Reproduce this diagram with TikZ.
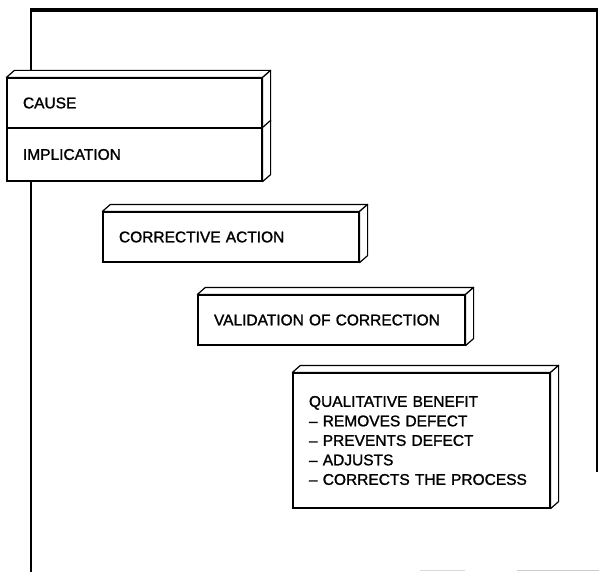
\documentclass[tikz,border=0pt]{standalone}
\usepackage{fontspec}
\setmainfont{Liberation Sans}
\newfontfamily\slabfont{Liberation Sans}[Ligatures=TeX,FakeBold=1.4]
\usepackage{tikz}

\begin{document}
\begin{tikzpicture}[x=1pt,y=-1pt,
  slab/.style={draw,fill=white,line width=1.2pt,inner xsep=16pt,inner ysep=0pt,align=left,font=\slabfont\fontsize{15.5}{19.5}\selectfont},
  face/.style={draw,fill=white,line width=1.2pt,line join=round}]
  \useasboundingbox (0,0) rectangle (599,572);
  % frame
  \draw[line width=1.3pt] (31,572) -- (31,11);
  \draw[line width=3.6pt] (30,10) -- (598,10);
  \draw[line width=1.6pt] (597,10) -- (597,472);
  \draw[gray!30,line width=1pt] (420,570) -- (465,570);
  \draw[gray!40,line width=1pt] (517,570) -- (599,570);
  % slabs
  \node[slab,text width=223pt,minimum height=50pt] (cause) at (134.5,103) {CAUSE};
  \node[slab,text width=223pt,minimum height=53pt] (impl) at (134.5,154.5) {IMPLICATION};
  \node[slab,text width=224pt,minimum height=50pt] (action) at (231,237) {CORRECTIVE ACTION};
  \node[slab,text width=235pt,minimum height=50pt] (valid) at (331.5,320) {VALIDATION OF CORRECTION};
  \node[slab,text width=225pt,minimum height=135pt] (benefit) at (421.5,440.5) {QUALITATIVE BENEFIT\\-- REMOVES DEFECT\\-- PREVENTS DEFECT\\-- ADJUSTS\\-- CORRECTS THE PROCESS};
  % depth
  \foreach \n in {cause,action,valid,benefit}
    \draw[face] (\n.north west) -- ([shift={(8,-7)}]\n.north west) -- ([shift={(8,-7)}]\n.north east) -- (\n.north east) -- cycle;
  \foreach \n in {cause,impl,action,valid,benefit}
    \draw[face] (\n.north east) -- ([shift={(8,-7)}]\n.north east) -- ([shift={(8,-7)}]\n.south east) -- (\n.south east) -- cycle;
\end{tikzpicture}
\end{document}
